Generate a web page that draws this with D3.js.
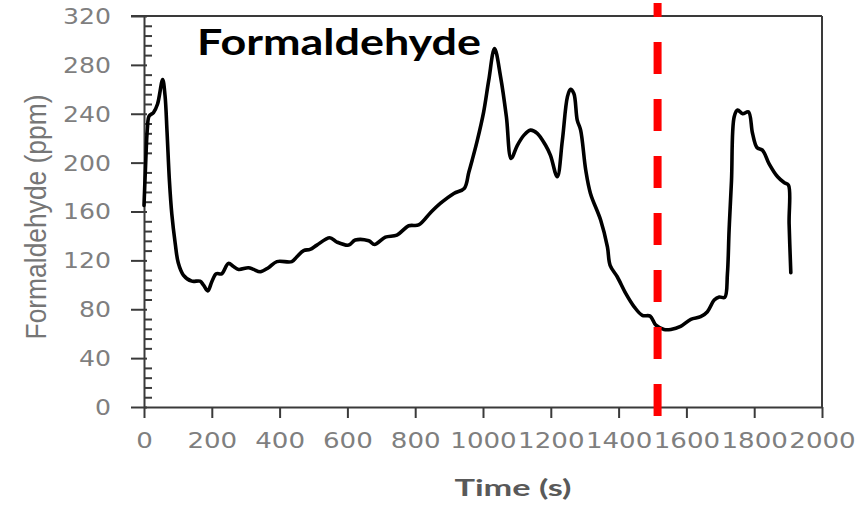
<!DOCTYPE html>
<html>
<head>
<meta charset="utf-8">
<script src="https://cdn.jsdelivr.net/npm/d3@7"></script>
<style>
  html, body { margin: 0; padding: 0; background: #fff; }
  svg { display: block; }
</style>
</head>
<body>
<svg id="chart" width="856" height="512"></svg>
<script>
// Formaldehyde concentration over time
const timeS = [0, 5, 10, 15, 28, 40, 55, 62, 68, 75, 82, 92, 101, 116, 141, 165, 175, 188, 200, 213,
  229, 249, 264, 279, 308, 323, 343, 367, 392, 436, 451, 471, 490, 510, 548, 569, 604, 623, 663, 680,
  712, 746, 781, 810, 845, 874, 914, 945, 958, 968, 983, 1002, 1017, 1034, 1052, 1069, 1083, 1101, 1121, 1140,
  1160, 1185, 1199, 1219, 1234, 1249, 1258, 1268, 1278, 1288, 1303, 1317, 1347, 1367, 1375, 1396, 1421, 1446, 1470, 1493,
  1510, 1534, 1554, 1583, 1613, 1642, 1662, 1682, 1697, 1713, 1721, 1726, 1733, 1741, 1751, 1766, 1783, 1795, 1808, 1825,
  1844, 1869, 1889, 1901, 1903, 1908];
const formaldehydePpm = [165, 200, 228, 238, 241, 248, 268, 255, 225, 185, 158, 134, 118, 108, 103, 103, 100, 95, 102.5, 109,
  109, 117.5, 115, 112.6, 114, 112.6, 110.7, 114, 119, 119, 123, 128, 129, 132.5, 138.5, 135, 132.5, 136.6, 136, 133,
  139, 140.7, 148.3, 149, 159, 166.6, 174.8, 179, 192, 202, 218, 241.6, 267.5, 293.4, 270, 237.5, 203.4, 214, 222.5, 226.6,
  224, 214, 206, 188.4, 218, 253.8, 260, 256.6, 234.8, 226.6, 194, 174.8, 153, 131, 116, 106.6, 93, 82, 75, 74.4,
  67, 63.5, 63.5, 66, 71.7, 73.9, 78, 87.5, 90, 89.7, 109, 145, 185, 237.5, 243, 240, 241.6, 224, 212.4, 210,
  199, 188.4, 183.5, 181.6, 150, 110];

const xTicks = [0, 200, 400, 600, 800, 1000, 1200, 1400, 1600, 1800, 2000];
const yTicks = [0, 40, 80, 120, 160, 200, 240, 280, 320];
const yMinorTicks = [8, 16, 24, 32, 48, 56, 64, 72, 88, 96, 104, 112, 128, 136, 144, 152, 168, 176, 184, 192,
  208, 216, 224, 232, 248, 256, 264, 272, 288, 296, 304, 312];

// Vertical marker (time, s) and its span in ppm
const markerTime = 1515;
const markerSpan = [-7.4, 330.6];

const titleText = "Formaldehyde";
const xLabel = "Time (s)";
const yLabel = "Formaldehyde (ppm)";

const svg = d3.select("#chart");
const x = d3.scaleLinear().domain([0, 2000]).range([144, 822]);
const y = d3.scaleLinear().domain([0, 320]).range([407, 16]);

const frameColor = "#3a3a3a";
const tickFont = "'DejaVu Sans', Verdana, sans-serif";
const fmt = d3.format("d");

// plot frame: top and right edges
svg.append("line").attr("x1", 131).attr("x2", x(2000)).attr("y1", y(320)).attr("y2", y(320))
  .attr("stroke", frameColor).attr("stroke-width", 2);
svg.append("line").attr("x1", x(2000)).attr("x2", x(2000)).attr("y1", y(320)).attr("y2", y(0))
  .attr("stroke", frameColor).attr("stroke-width", 2);

// x axis
const gx = svg.append("g").attr("transform", `translate(0,${y(0)})`)
  .call(d3.axisBottom(x).tickValues(xTicks).tickFormat(fmt).tickSizeInner(11).tickSizeOuter(0).tickPadding(15));
gx.select(".domain").attr("stroke", frameColor).attr("stroke-width", 2);
gx.selectAll(".tick line").attr("stroke", frameColor).attr("stroke-width", 2);
gx.selectAll(".tick text")
  .attr("fill", "#7f7f7f").attr("font-family", tickFont).attr("font-size", 20.5)
  .attr("textLength", d => fmt(d).length * 16.6).attr("lengthAdjust", "spacingAndGlyphs");

// y axis: major ticks outward, minor ticks inward
const gy = svg.append("g").attr("transform", `translate(${x(0)},0)`)
  .call(d3.axisLeft(y).tickValues(yTicks).tickFormat(fmt).tickSizeInner(13).tickSizeOuter(0).tickPadding(20));
gy.select(".domain").attr("stroke", frameColor).attr("stroke-width", 2);
gy.selectAll(".tick line").attr("stroke", frameColor).attr("stroke-width", 2).attr("x1", 3);
gy.selectAll(".tick text")
  .attr("fill", "#7f7f7f").attr("font-family", tickFont).attr("font-size", 20.5).attr("dy", "0.36em")
  .attr("textLength", d => fmt(d).length * 16).attr("lengthAdjust", "spacingAndGlyphs");

const gyMinor = svg.append("g").attr("transform", `translate(${x(0)},0)`)
  .call(d3.axisRight(y).tickValues(yMinorTicks).tickSizeInner(8).tickSizeOuter(0).tickFormat(""));
gyMinor.select(".domain").remove();
gyMinor.selectAll(".tick line").attr("stroke", frameColor).attr("stroke-width", 2);

// concentration trace
const pts = timeS.map((t, i) => [t, formaldehydePpm[i]]);
svg.append("path")
  .datum(pts)
  .attr("fill", "none")
  .attr("stroke", "#000")
  .attr("stroke-width", 3.6)
  .attr("stroke-linejoin", "round")
  .attr("stroke-linecap", "round")
  .attr("d", d3.line().x(d => x(d[0])).y(d => y(d[1])).curve(d3.curveCatmullRom.alpha(0.5)));

// red dashed marker, drawn from the bottom upward
svg.append("line")
  .attr("x1", x(markerTime)).attr("x2", x(markerTime))
  .attr("y1", y(markerSpan[0])).attr("y2", y(markerSpan[1]))
  .attr("stroke", "#ff0000").attr("stroke-width", 8)
  .attr("stroke-dasharray", "32 25");

// chart title
svg.append("text")
  .attr("x", 197).attr("y", 55)
  .attr("font-family", "Lato, 'Open Sans', sans-serif").attr("font-weight", 700).attr("font-size", 37)
  .attr("fill", "#000")
  .attr("textLength", 284).attr("lengthAdjust", "spacingAndGlyphs")
  .text(titleText);

// axis titles
svg.append("text")
  .attr("x", 513).attr("y", 496).attr("text-anchor", "middle")
  .attr("font-family", "Lato, 'Open Sans', sans-serif").attr("font-weight", 700).attr("font-size", 23)
  .attr("fill", "#595959")
  .attr("textLength", 117).attr("lengthAdjust", "spacingAndGlyphs")
  .text(xLabel);

svg.append("text")
  .attr("transform", "translate(46,217) rotate(-90)")
  .attr("text-anchor", "middle")
  .attr("font-family", "'Liberation Sans', Arial, sans-serif").attr("font-size", 29)
  .attr("fill", "#767676")
  .attr("textLength", 245).attr("lengthAdjust", "spacingAndGlyphs")
  .text(yLabel);
</script>
</body>
</html>
